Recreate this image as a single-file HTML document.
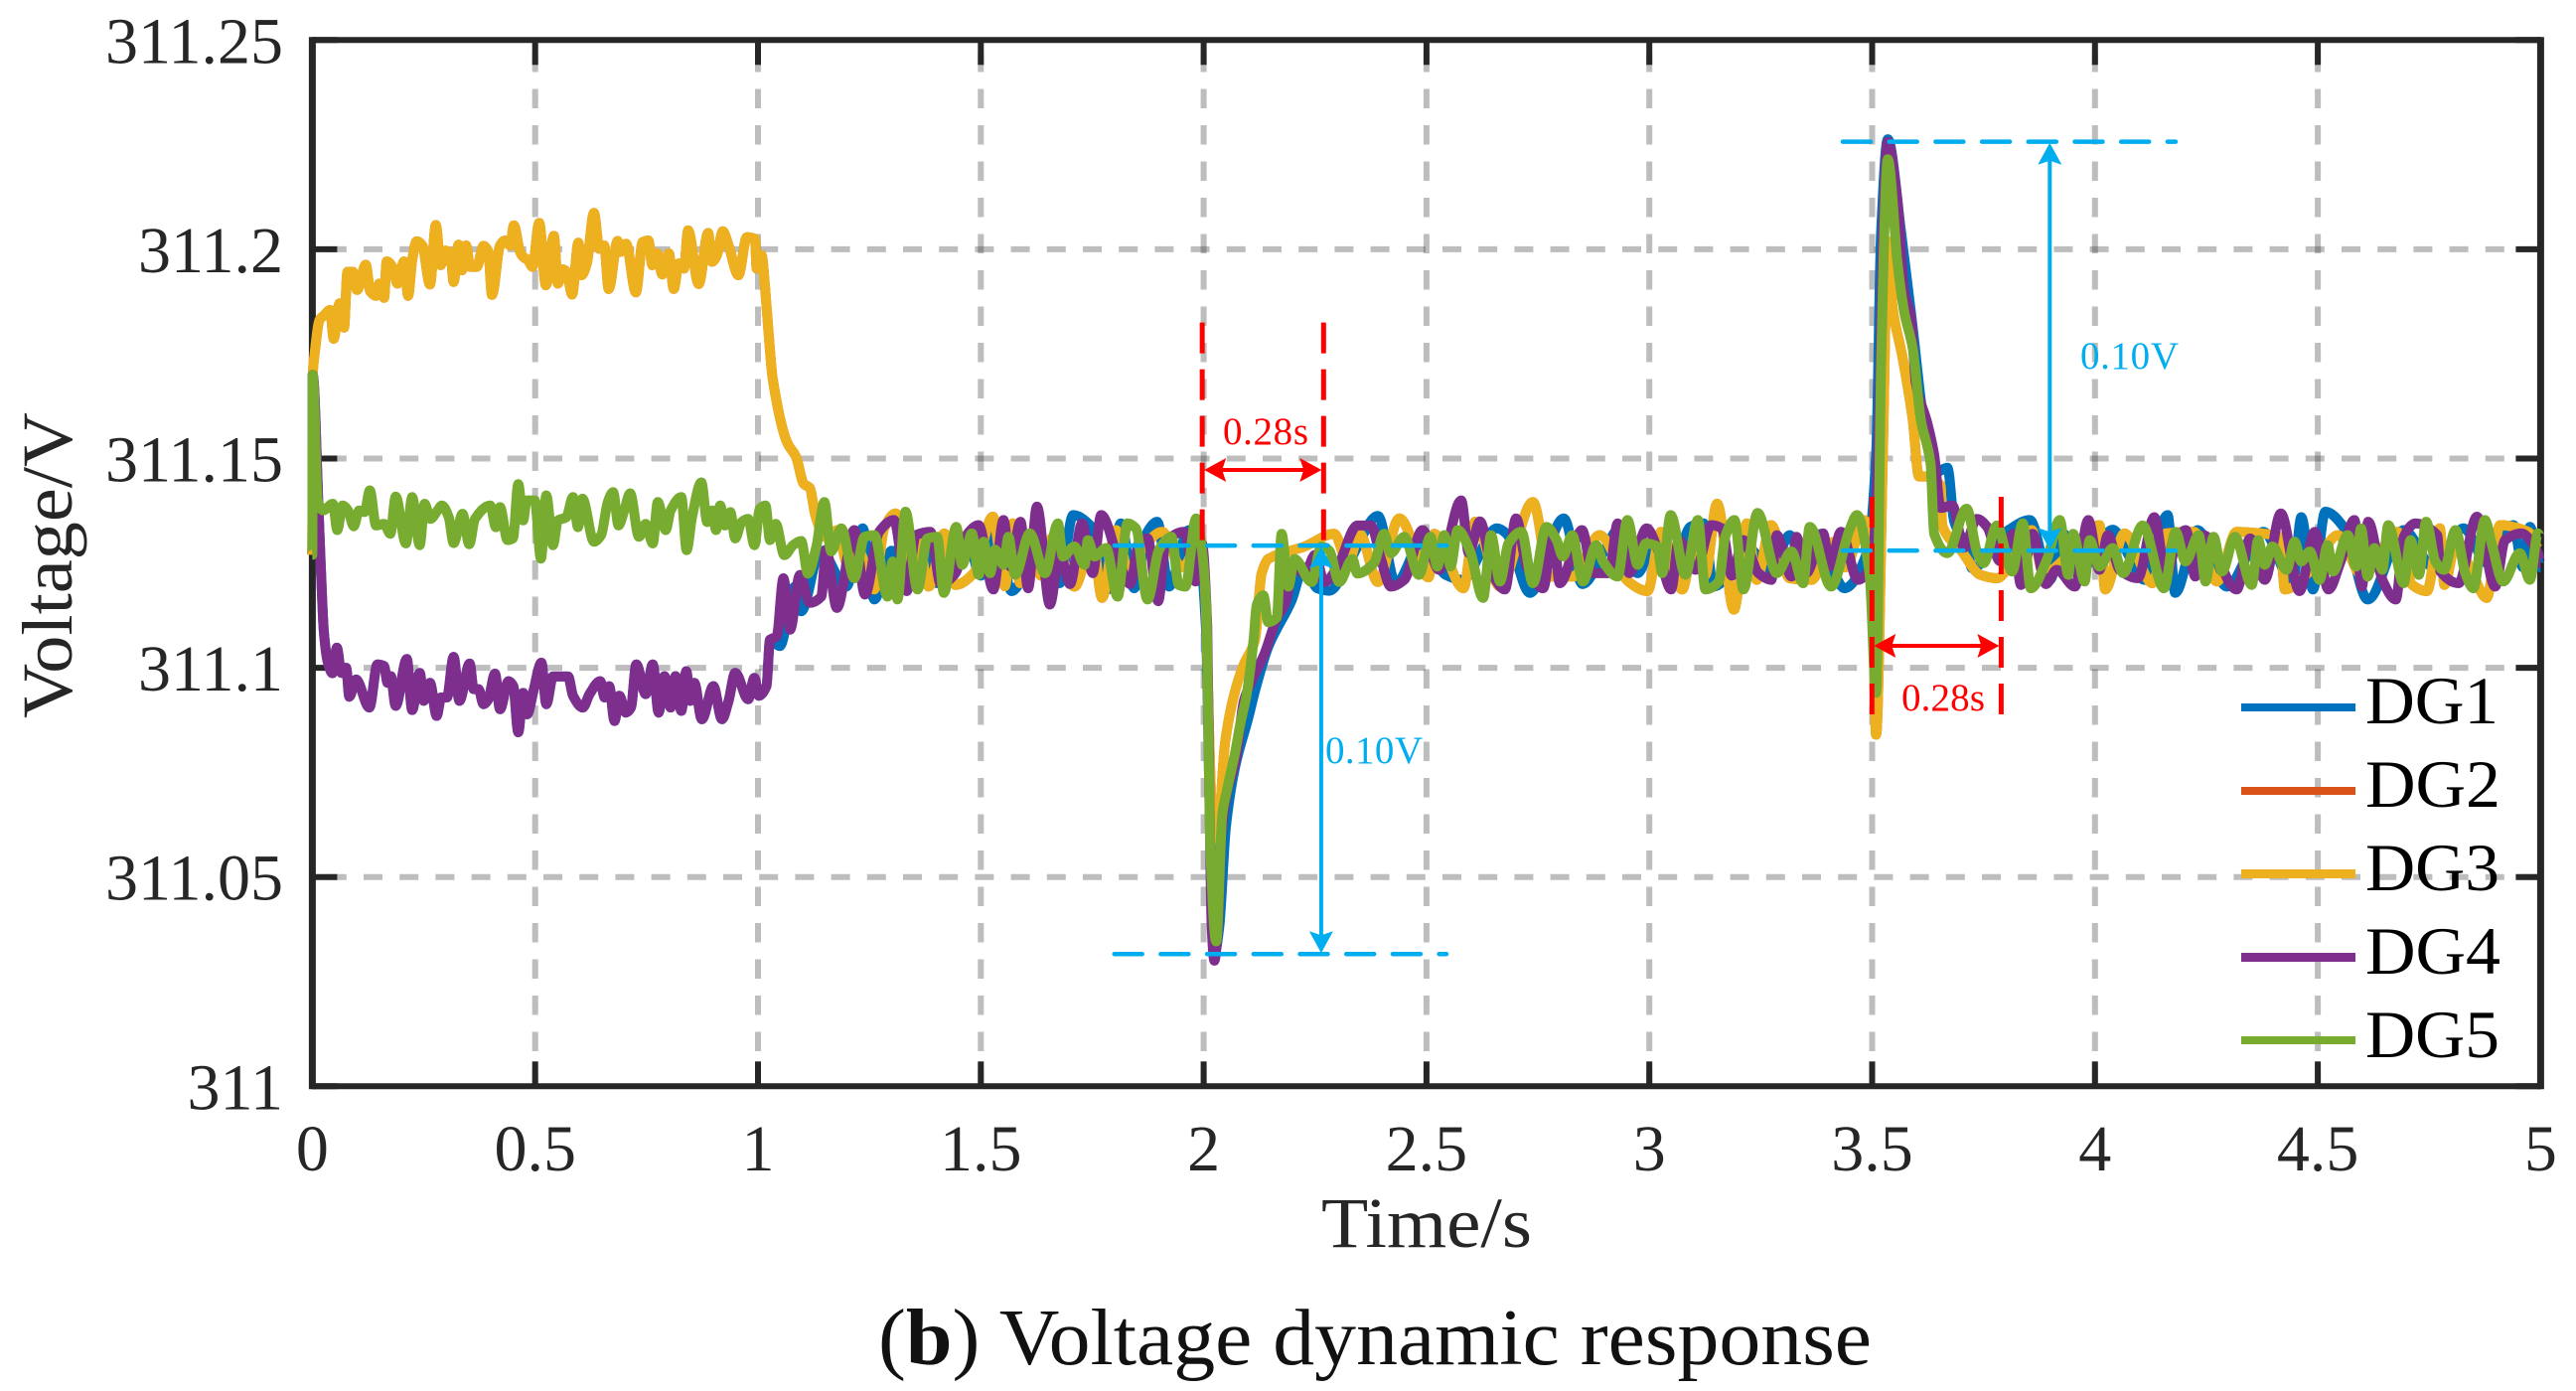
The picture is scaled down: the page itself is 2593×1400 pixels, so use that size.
<!DOCTYPE html>
<html lang="en">
<head>
<meta charset="utf-8">
<title>Voltage dynamic response</title>
<style>
html,body{margin:0;padding:0;background:#fff;width:2593px;height:1400px;overflow:hidden}
svg{display:block}
text{font-family:"Liberation Serif","Times New Roman",serif}
</style>
</head>
<body>
<svg id="chart" width="2593" height="1400" viewBox="0 0 2593 1400" xmlns="http://www.w3.org/2000/svg">
  <rect width="2593" height="1400" fill="#fff"/>
  <g id="grid"></g>
  <g id="axes"></g>
  <g id="xlabels" font-size="66" fill="#262626" text-anchor="middle"></g>
  <g id="ylabels" font-size="66" fill="#262626" text-anchor="end"></g>
  <g id="series"></g>
  <g id="annotations"></g>

  <text x="1231" y="447" font-size="39" fill="#ff0000" textLength="86" lengthAdjust="spacing">0.28s</text>
  <text x="1914" y="715" font-size="39" fill="#ff0000" textLength="84" lengthAdjust="spacing">0.28s</text>
  <text x="1334" y="768" font-size="39" fill="#00aeef" textLength="98" lengthAdjust="spacing">0.10V</text>
  <text x="2094" y="371" font-size="39" fill="#00aeef" textLength="99" lengthAdjust="spacing">0.10V</text>

  <g id="legend" font-size="68" fill="#000">
    <g><rect x="2256" y="708" width="115" height="8" fill="#0072bd"/><text x="2381" y="728" textLength="134" lengthAdjust="spacingAndGlyphs">DG1</text></g>
    <g><rect x="2256" y="792" width="115" height="8" fill="#d95319"/><text x="2381" y="812" textLength="136" lengthAdjust="spacingAndGlyphs">DG2</text></g>
    <g><rect x="2256" y="875" width="115" height="9" fill="#edb120"/><text x="2381" y="896" textLength="135" lengthAdjust="spacingAndGlyphs">DG3</text></g>
    <g><rect x="2256" y="959" width="115" height="9" fill="#7e2f8e"/><text x="2381" y="980" textLength="136" lengthAdjust="spacingAndGlyphs">DG4</text></g>
    <g><rect x="2256" y="1043" width="115" height="8" fill="#77ac30"/><text x="2381" y="1064" textLength="135" lengthAdjust="spacingAndGlyphs">DG5</text></g>
  </g>

  <text x="1330" y="1255" font-size="72" fill="#262626" textLength="212" lengthAdjust="spacingAndGlyphs">Time/s</text>
  <text transform="translate(72,723) rotate(-90)" font-size="72" fill="#262626" textLength="308" lengthAdjust="spacingAndGlyphs">Voltage/V</text>
  <text x="884" y="1373" font-size="81" fill="#111" textLength="1000" lengthAdjust="spacingAndGlyphs">(<tspan font-weight="bold">b</tspan>) Voltage dynamic response</text>
</svg>

<script>
// Axis tick data
const xTicks = [0, 0.5, 1, 1.5, 2, 2.5, 3, 3.5, 4, 4.5, 5];
const xTickLabels = ['0', '0.5', '1', '1.5', '2', '2.5', '3', '3.5', '4', '4.5', '5'];
const yTicks = [311, 311.05, 311.1, 311.15, 311.2, 311.25];
const yTickLabels = ['311', '311.05', '311.1', '311.15', '311.2', '311.25'];

// Series samples: time in ms, voltage as mV above 311 V
const dg4TimeMs = [0,1,14,19,26,35,45,55,65,76,83,98,128,146,161,169,176,187,212,224,241,250,264,279,289,302,317,330,353,362,373,384,395,410,421,440,451,462,473,482,497,514,525,540,574,585,607,622,646,656,666,678,689,703,715,727,748,764,777,790,804,815,828,839,848,857,874,900,919,934,949,978,992,1002,1019,1027,1042,1057,1072,1094,1116,1142,1153,1177,1216,1240,1272,1305,1334,1354,1387,1443,1495,1528,1551,1566,1589,1606,1626,1655,1677,1727,1751,1770,1811,1874,1898,1915,1956,1982,1996,2008,2013,2018,2024,2032,2040,2052,2072,2090,2100,2137,2165,2182,2204,2227,2271,2345,2375,2398,2420,2450,2491,2528,2578,2595,2676,2701,2725,2762,2784,2799,2849,2873,2910,2929,2955,2994,3049,3066,3104,3139,3163,3211,3245,3274,3286,3319,3330,3352,3390,3405,3430,3468,3500,3516,3524,3535,3557,3572,3587,3598,3624,3639,3654,3680,3706,3735,3758,3787,3817,3834,3914,3955,3985,4010,4029,4055,4096,4133,4204,4225,4244,4318,4348,4381,4417,4459,4493,4524,4582,4599,4613,4645,4675,4693,4719,4768,4775,4816,4857,4898,4920,4957,4994,5000];
const dg4Mv = [127,170,137.6,124.2,108.3,101.2,98.7,104.8,98.8,100,93.1,97.2,90.5,100.8,100.4,96.4,98,90.9,102.1,89.9,98.8,92.1,96.4,88.5,92.9,92.9,102.6,92.1,101,94.9,94.9,91.3,92.5,98.6,90.1,96.8,95.6,84.6,94,88.9,94.9,101.2,91.3,97.9,97.9,93.3,90.5,93.7,96.8,92.9,95.6,87.3,93.3,89.3,90.5,100.8,93.7,100.8,89.3,98,90.5,98,89.7,99.2,92.1,96.4,87.7,95.6,87.7,92.1,98.8,92.5,97.6,93.3,95.6,106.7,107.5,121.4,109.1,122.2,115.5,117,128.2,114.3,132.9,117.5,132.5,135.3,118.3,131.7,132.5,122.6,134.1,118.7,135.3,124.2,134.9,119,138.5,115.1,127.4,134.5,122.6,136.5,125,130.9,115.9,130.1,132.5,120.6,129.7,110,70,38,30,38,60,70,78,92,95,103.5,112,115,124,122.5,120.5,134,134,126,119.4,121,132.9,123.4,140,127.4,118.7,135.7,124.2,119,132.5,120.2,132.9,122.6,122.6,134.5,122.6,133.3,118.7,130.5,123.4,134.1,133.3,130.5,122.6,121,131.7,121.8,131.3,122.6,132.1,124.2,132.5,121,125,161.6,204,225.7,211.4,190,183.8,168,158.4,151,138.2,138.8,128.7,135.6,133.7,125.5,132,119.8,123.4,119.4,135.3,123.4,131.7,123.4,121.4,136,132.9,121.8,131.7,118.7,130.9,121,136.9,118.3,132.5,118.7,135.3,119.4,134.9,121,116.3,131.3,134.5,131.7,123,120.2,136.1,119.4,130.5,132.1,127.4,125];
const dg4ExtraTimeMs = [1410,1470,1700,1835,1855,2250,2300,2620,2650,3020,3185,3860,3890,4160,4185,4550];
const dg4ExtraMv = [120,132,120,120,130,127,124,135,122,128,122,132,120,122,131,125];

const dg1TailTimeMs = [1049,1083,1097,1140,1198,1235,1261,1300,1402,1470,1569,1630,1677,1707,1748,1785,1814,1844,1874,1896,1922,1967,1989,2005,2015,2025,2035,2050,2070,2100,2119,2145,2197,2282,2391,2431,2490,2543,2580,2658,2680,2732,2808,2900,2974,3092,3122,3144,3230,3315,3438,3490,3509,3520,3535,3565,3587,3624,3643,3669,3684,3713,3724,3806,3854,3899,4000,4080,4163,4180,4230,4296,4378,4444,4463,4489,4517,4560,4612,4693,4760,4827,4880,4939,4960,4976,5000];
const dg1TailMv = [105.2,119.4,113.5,128,119.4,133.3,116.3,128,120.2,130,118.3,128,120.2,136.5,133.7,118.7,134.5,119,132.5,134.9,119.4,132.9,129.3,110,60,32,38,62,76,88,96,105,116,118.4,136.3,120.2,130,122.2,121,133.3,132,117.9,135.7,128,122.6,133.7,134.5,119.4,128,131.7,119,128,151,204,226.3,204,185,153,146.7,147.8,135,128.7,123.8,132.9,135.3,121,128,126,136.5,117.9,132.9,119.4,132.5,120.2,136,118.7,137.3,133.3,116.3,132.9,124,133.3,125,134.1,124,133.7,124];
const dg1ExtraTimeMs = [1335,1370,1500,1535,2225,2255,2330,2850,2930,3010,3050,3270,3350,3385,3410,3930,3965,4040,4110];
const dg1ExtraMv = [122,132,122,132,124,119,126,120,133,130,122,122,123,132,124,132,122,133,121];

const dg3TimeMs = [0,1,5,16,27,40,48,61,71,79,91,100,120,130,143,150,161,167,180,191,206,215,224,234,247,264,277,288,299,310,317,328,336,345,354,369,384,395,403,421,432,444,452,466,473,484,494,509,524,542,551,562,571,583,597,604,616,632,644,655,665,685,692,704,726,741,754,763,774,785,800,811,822,834,843,867,888,897,908,921,934,956,975,993,997,1008,1016,1023,1033,1065,1085,1103,1116,1129,1149,1179,1200,1261,1283,1309,1383,1418,1443,1484,1527,1554,1572,1588,1662,1710,1751,1772,1803,1833,1907,1950,1996,2005,2012,2020,2030,2048,2067,2089,2115,2130,2145,2227,2293,2324,2391,2439,2505,2517,2583,2609,2665,2739,2777,2829,2888,2953,2996,3026,3074,3152,3190,3219,3241,3273,3315,3364,3410,3482,3498,3509,3524,3535,3546,3568,3591,3605,3624,3654,3657,3700,3743,3780,3858,3884,3950,4010,4023,4066,4129,4159,4222,4274,4318,4374,4415,4426,4490,4545,4600,4679,4712,4745,4774,4784,4879,4909,4972,5000];
const dg3Mv = [127,170,174.8,183.1,184.3,185.5,178.6,187.1,181.3,194.6,194.6,190.3,196.3,189.9,188.9,191.8,188.4,197.1,195.8,191.8,197.1,188.9,197.4,201.9,200.9,191.6,205.8,196.2,199.7,199,192.2,201.1,195,200.9,195.8,195.8,200.8,199.4,189.1,200.9,202.1,200.9,205.7,199.4,198.2,197.4,195.8,206.3,191.4,203.2,191.8,195.2,194.6,189.2,201.6,193.8,196.6,208.7,200.1,200.9,190.5,202,199.4,201.3,189.7,201.7,202.1,196.2,199,194,199,190.5,196.6,195.4,204.5,191.7,203.9,197,198.6,204.3,200.9,193.8,202.9,202.5,195.4,198.6,190.6,181.1,169.1,153.9,150.5,143.9,143,136.3,131.3,132.9,125,118.7,133.3,136.9,119.4,132.1,119.8,122.6,136.1,119.5,134.5,120.2,131.3,119.4,130.1,116.7,132.9,122.6,132.5,124,129.7,115,85,62,59,82,93,100.5,106.6,122.5,126,129,132,125,120.5,135.7,121.6,132,119,134.9,119.4,139.6,121.8,121.8,131.7,120.6,118.3,132.5,118.7,139.2,113.9,134.5,121,134.1,121.4,121,130,135.3,130,84,151,201.9,186,174.3,159.4,145.7,145.7,143.5,134,128,122.2,121.4,132.9,122.6,128,134.1,118.7,132.1,120.2,132.1,132.5,120.6,132.5,132.1,131.3,118.7,124,131.7,122,132.5,119.8,118.3,133.3,119.8,116.7,134.1,132.5,128];
const dg3ExtraTimeMs = [1225,1340,1360,1610,1635,1860,2350,3100,3125,3440,4810,4845];
const dg3ExtraMv = [128,122,130,130,122,128,132,130,122,124,130,123];

const dg5TimeMs = [0,1,12,24,46,56,68,80,93,105,117,129,143,161,175,187,210,224,241,252,265,281,291,306,317,337,352,365,399,412,421,438,450,462,473,481,499,513,525,540,551,570,585,596,606,632,648,663,675,687,700,713,733,748,764,775,793,804,828,840,852,873,886,897,906,915,926,938,949,963,978,992,1004,1017,1027,1040,1059,1079,1097,1112,1131,1149,1164,1187,1216,1239,1261,1291,1302,1313,1331,1358,1380,1402,1417,1445,1458,1480,1495,1506,1521,1532,1551,1562,1577,1610,1644,1673,1684,1710,1733,1740,1755,1781,1807,1829,1848,1874,1900,1928,1944,1959,1983,1996,2006,2011,2015,2028,2042,2052,2071,2082,2097,2112,2119,2134,2145,2164,2175,2190,2204,2242,2264,2282,2304,2334,2345,2382,2405,2420,2450,2483,2509,2524,2540,2554,2570,2598,2627,2645,2665,2684,2713,2739,2769,2792,2806,2827,2851,2881,2896,2929,2951,2974,2992,3018,3029,3048,3081,3109,3126,3156,3170,3191,3211,3243,3286,3319,3345,3360,3408,3449,3466,3494,3509,3520,3535,3557,3572,3591,3609,3631,3639,3669,3712,3736,3750,3780,3814,3838,3856,3892,3921,3940,3951,3977,3988,4010,4040,4063,4107,4155,4181,4203,4233,4248,4266,4285,4314,4352,4366,4381,4398,4430,4448,4463,4482,4504,4522,4534,4567,4586,4597,4612,4627,4645,4658,4693,4708,4727,4743,4764,4783,4809,4831,4849,4875,4890,4916,4953,4976,4994,5000];
const dg5Mv = [127,170,140,137.6,139.2,132.9,138.8,137.6,133.8,137.6,137.2,142.4,134,134.4,132,140.9,129.7,140.8,129.3,139.2,135.6,137.6,138.8,136,129.8,136.8,129.5,135.6,138.8,133.6,138.4,130.5,130.9,143.9,135.2,140,140,126.1,141.2,129.3,135.2,136,140.8,133.6,140.4,130.1,131.7,139.6,142,134,137.6,141.7,131.3,134.4,129.7,139.6,132.9,137.6,140.8,128.1,136,144.3,134.8,137.6,132.9,138.8,134,137.2,130.9,134.8,135.6,129.3,138,138.8,130.5,134.4,126.9,129.3,130.3,122.5,129,139.6,127.8,133.3,121.4,131.3,131.7,117,125.4,116.3,137.3,118.7,130.9,131.3,117.9,133.7,124.6,132.1,122.2,130.1,122.6,128.2,124.6,131.3,122.2,132.1,122.6,134.5,126.6,129,124.6,130.5,126.6,128.6,117,134.5,133.3,116.3,128.2,131.3,119.8,119.4,135.7,128.2,114,82,57,34.6,65,70.6,80,86.5,94,106.6,115,117.3,110.9,112,132,119.4,126,120.5,129,128,120.5,126,122.5,125,132,127.4,131.3,122.2,131.3,124.2,131.7,124.2,132.9,127.8,116.7,131.7,120.6,129.7,132.5,120.2,133.7,130.5,126.6,131.7,120.6,129.3,125.4,121.8,135.3,124.6,129.7,129,122.6,136.5,122.2,135.3,118.7,120.6,131.3,135.3,118.7,137,122.6,127.8,120.2,133.7,119.4,132.9,136.5,122.6,94,172,221.5,196.6,185,176.4,159.4,148.8,132,127.4,138,127.4,125,134,123,134.5,119,125.8,135.3,122.2,132,120.6,130.5,124.2,128.6,122.6,134,119,132.5,125.4,131.7,120.6,131.3,123,131.3,119.8,130.5,124.6,129,123.4,130.1,125.4,127.8,121,129.3,123,131.7,124.2,133.3,121.8,128.6,123.4,134.1,120.2,130.5,122.2,134.9,125.4,123.4,132.9,122.6,119,135.3,129.7,120.6,127.4,121,132.1,131];

// Annotation values (seconds and mV above 311 V)
const settleWindowDip = [1.9968, 2.2691];
const settleWindowSpike = [3.4996, 3.7895];
const dipLevelsMv = [129.2, 31.6];
const spikeLevelsMv = [225.7, 128];

// Merge a series' main samples with its extra samples, ordered by time
function mergeSamples(times, values, extraTimes, extraValues) {
  const pairs = times.map(function (t, i) { return [t, values[i]]; });
  extraTimes.forEach(function (t, i) { pairs.push([t, extraValues[i]]); });
  pairs.sort(function (a, b) { return a[0] - b[0]; });
  return pairs;
}

// DG1 sits under DG4 until the transient at 1 s; DG2 sits under DG3 everywhere
const dg4Samples = mergeSamples(dg4TimeMs, dg4Mv, dg4ExtraTimeMs, dg4ExtraMv);
const dg3Samples = mergeSamples(dg3TimeMs, dg3Mv, dg3ExtraTimeMs, dg3ExtraMv);
const dg5Samples = mergeSamples(dg5TimeMs, dg5Mv, [], []);
const dg1Samples = dg4Samples.filter(function (p) { return p[0] < 1042; })
  .concat(mergeSamples(dg1TailTimeMs, dg1TailMv, dg1ExtraTimeMs, dg1ExtraMv));
const dg2Samples = dg3Samples.slice();

// Axis functions
const plotLeft = 314.4, plotRight = 2557.4, plotTop = 40.3, plotBottom = 1093.3;
function xScale(sec) { return plotLeft + (sec / 5) * (plotRight - plotLeft); }
function yScale(volt) { return plotBottom - ((volt - 311) / 0.25) * (plotBottom - plotTop); }

const NS = 'http://www.w3.org/2000/svg';
function make(tag, parent, attrs) {
  const el = document.createElementNS(NS, tag);
  for (const k in attrs) el.setAttribute(k, attrs[k]);
  parent.appendChild(el);
  return el;
}

// Rounded curve through the sample points, flat at peaks and troughs
function curvePath(px, py) {
  const n = px.length, m = new Array(n).fill(0);
  for (let i = 1; i < n - 1; i++) {
    const a = (py[i] - py[i - 1]) / (px[i] - px[i - 1]);
    const b = (py[i + 1] - py[i]) / (px[i + 1] - px[i]);
    m[i] = a * b <= 0 ? 0 : 2 * a * b / (a + b);
  }
  let d = 'M' + px[0].toFixed(1) + ' ' + py[0].toFixed(1);
  for (let i = 1; i < n; i++) {
    const h = (px[i] - px[i - 1]) / 3;
    d += 'C' + (px[i - 1] + h).toFixed(1) + ' ' + (py[i - 1] + m[i - 1] * h).toFixed(1) + ' ' +
         (px[i] - h).toFixed(1) + ' ' + (py[i] - m[i] * h).toFixed(1) + ' ' +
         px[i].toFixed(1) + ' ' + py[i].toFixed(1);
  }
  return d;
}

const gridG = document.getElementById('grid');
const axesG = document.getElementById('axes');
const xLabelG = document.getElementById('xlabels');
const yLabelG = document.getElementById('ylabels');
const seriesG = document.getElementById('series');
const annG = document.getElementById('annotations');

// Grid lines
xTicks.forEach(function (t, i) {
  if (i === 0 || i === xTicks.length - 1) return;
  const line = make('line', gridG, { x1: xScale(t), x2: xScale(t), y1: 53, y2: plotBottom, stroke: 'rgba(38,38,38,0.3)', 'stroke-width': 6, 'stroke-dasharray': '19.5 17' });
  
  
});
yTicks.forEach(function (v, i) {
  if (i === 0 || i === yTicks.length - 1) return;
  const line = make('line', gridG, { x1: 329.8, x2: plotRight, y1: yScale(v), y2: yScale(v), stroke: 'rgba(38,38,38,0.3)', 'stroke-width': 6, 'stroke-dasharray': '19 17.2' });
  
  
});

// Frame
const frameSides = [
  ['frame-left', plotLeft, plotTop - 3, plotLeft, plotBottom + 3, 7],
  ['frame-right', plotRight, plotTop - 3, plotRight, plotBottom + 3, 7],
  ['frame-top', plotLeft, plotTop, plotRight, plotTop, 6],
  ['frame-bottom', plotLeft, plotBottom, plotRight, plotBottom, 6]
];
frameSides.forEach(function (s) {
  const line = make('line', axesG, { x1: s[1], y1: s[2], x2: s[3], y2: s[4], stroke: '#262626', 'stroke-width': s[5] });
  
  
});

// Ticks and tick labels
xTicks.forEach(function (t, i) {
  const x = xScale(t);
  const bottomTick = make('line', axesG, { x1: x, x2: x, y1: plotBottom, y2: plotBottom - 25, stroke: '#262626', 'stroke-width': 6 });
  
  
  const topTick = make('line', axesG, { x1: x, x2: x, y1: plotTop, y2: plotTop + 25, stroke: '#262626', 'stroke-width': 6 });
  
  
  const label = make('text', xLabelG, { x: x, y: 1178 });
  label.textContent = xTickLabels[i];
  
  
});
yTicks.forEach(function (v, i) {
  const y = yScale(v);
  const leftTick = make('line', axesG, { x1: plotLeft, x2: plotLeft + 25, y1: y, y2: y, stroke: '#262626', 'stroke-width': 6 });
  
  
  const rightTick = make('line', axesG, { x1: plotRight, x2: plotRight - 25, y1: y, y2: y, stroke: '#262626', 'stroke-width': 6 });
  
  
  const label = make('text', yLabelG, { x: 285, y: y + 23 });
  label.textContent = yTickLabels[i];
  
  
});

// Series
const seriesDefs = [
  ['series-dg1', dg1Samples, '#0072bd'],
  ['series-dg2', dg2Samples, '#d95319'],
  ['series-dg3', dg3Samples, '#edb120'],
  ['series-dg4', dg4Samples, '#7e2f8e'],
  ['series-dg5', dg5Samples, '#77ac30']
];
seriesDefs.forEach(function (s) {
  const px = s[1].map(function (p) { return xScale(p[0] / 1000); });
  const py = s[1].map(function (p) { return yScale(311 + p[1] / 1000); });
  const path = make('path', seriesG, { d: curvePath(px, py), fill: 'none', stroke: s[2], 'stroke-width': 10, 'stroke-linejoin': 'round', 'stroke-linecap': 'butt' });
  
  
});

// Annotations
function arrowHead(name, tipX, tipY, dx, dy, color) {
  const len = 22, half = 12, notch = 18;
  const nx = -dy, ny = dx;
  const pts = [
    [tipX, tipY],
    [tipX - dx * len + nx * half, tipY - dy * len + ny * half],
    [tipX - dx * notch, tipY - dy * notch],
    [tipX - dx * len - nx * half, tipY - dy * len - ny * half]
  ].map(function (p) { return p[0].toFixed(1) + ',' + p[1].toFixed(1); }).join(' ');
  const head = make('polygon', annG, { points: pts, fill: color });
  
  
}

function levelLine(name, t1, t2, mv) {
  const y = yScale(311 + mv / 1000);
  const line = make('line', annG, { x1: xScale(t1), x2: xScale(t2), y1: y, y2: y, stroke: '#00aeef', 'stroke-width': 4.5, 'stroke-linecap': 'round', 'stroke-dasharray': '28 18.7' });
  
  
}

function deviationArrow(name, t, mvTop, mvBottom) {
  const x = xScale(t), y1 = yScale(311 + mvTop / 1000), y2 = yScale(311 + mvBottom / 1000);
  const line = make('line', annG, { x1: x, x2: x, y1: y1 + 10, y2: y2 - 10, stroke: '#00aeef', 'stroke-width': 4 });
  
  
  arrowHead(name + '-head-top', x, y1 + 1, 0, -1, '#00aeef');
  arrowHead(name + '-head-bottom', x, y2 - 1, 0, 1, '#00aeef');
}

function windowMarker(name, window, yStart, yEnd, yArrow) {
  const x1 = xScale(window[0]), x2 = xScale(window[1]);
  [x1, x2].forEach(function (x, i) {
    const line = make('line', annG, { x1: x, x2: x, y1: yStart, y2: yEnd, stroke: '#ff0000', 'stroke-width': 5, 'stroke-dasharray': '31 16' });
    
    
  });
  const span = make('line', annG, { x1: x1 + 10, x2: x2 - 10, y1: yArrow, y2: yArrow, stroke: '#ff0000', 'stroke-width': 4 });
  
  
  arrowHead(name + '-head-left', x1 + 2, yArrow, -1, 0, '#ff0000');
  arrowHead(name + '-head-right', x2 - 2, yArrow, 1, 0, '#ff0000');
}

windowMarker('settling-window-dip', settleWindowDip, 324.6, 545, 473);
windowMarker('settling-window-spike', settleWindowSpike, 500, 720, 650);
levelLine('dip-level-steady', 1.7996, 2.5448, dipLevelsMv[0]);
levelLine('dip-level-minimum', 1.7996, 2.5448, dipLevelsMv[1]);
levelLine('spike-level-maximum', 3.4342, 4.1809, spikeLevelsMv[0]);
levelLine('spike-level-steady', 3.4342, 4.1809, spikeLevelsMv[1]);
deviationArrow('dip-deviation-arrow', 2.2638, dipLevelsMv[0], dipLevelsMv[1]);
deviationArrow('spike-deviation-arrow', 3.8986, spikeLevelsMv[0], spikeLevelsMv[1]);
</script>
</body>
</html>
